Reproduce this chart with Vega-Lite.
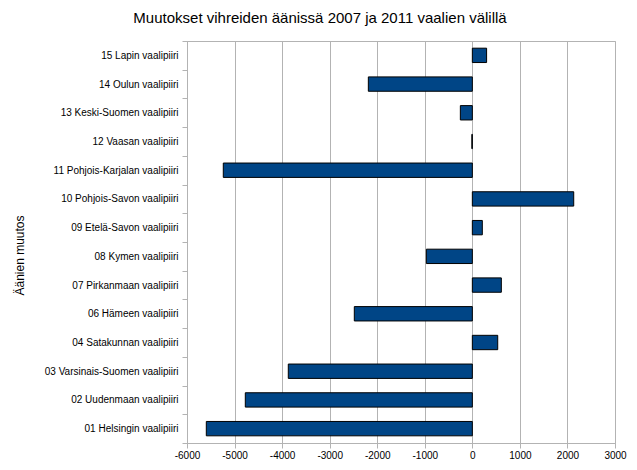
{
  "$schema": "https://vega.github.io/schema/vega-lite/v6.json",
  "width": 428,
  "height": 402,
  "autosize": {"type": "none"},
  "padding": {"left": 187, "top": 41, "right": 22, "bottom": 27},
  "background": "white",
  "title": {
    "text": "Muutokset vihreiden äänissä 2007 ja 2011 vaalien välillä",
    "anchor": "middle",
    "dx": -81,
    "offset": 10,
    "font": "Liberation Sans",
    "fontSize": 15,
    "fontWeight": "normal",
    "color": "black"
  },
  "data": {
    "values": [
      {"piiri": "15 Lapin vaalipiiri", "muutos": 300},
      {"piiri": "14 Oulun vaalipiiri", "muutos": -2187},
      {"piiri": "13 Keski-Suomen vaalipiiri", "muutos": -252},
      {"piiri": "12 Vaasan vaalipiiri", "muutos": -10},
      {"piiri": "11 Pohjois-Karjalan vaalipiiri", "muutos": -5237},
      {"piiri": "10 Pohjois-Savon vaalipiiri", "muutos": 2132},
      {"piiri": "09 Etelä-Savon vaalipiiri", "muutos": 210},
      {"piiri": "08 Kymen vaalipiiri", "muutos": -967},
      {"piiri": "07 Pirkanmaan vaalipiiri", "muutos": 610},
      {"piiri": "06 Hämeen vaalipiiri", "muutos": -2482},
      {"piiri": "04 Satakunnan vaalipiiri", "muutos": 534},
      {"piiri": "03 Varsinais-Suomen vaalipiiri", "muutos": -3870},
      {"piiri": "02 Uudenmaan vaalipiiri", "muutos": -4774},
      {"piiri": "01 Helsingin vaalipiiri", "muutos": -5594}
    ]
  },
  "mark": {"type": "bar", "height": {"band": 0.5}, "color": "#004586", "stroke": "black", "strokeWidth": 1},
  "encoding": {
    "y": {
      "field": "piiri",
      "type": "nominal",
      "sort": "descending",
      "scale": {"paddingInner": 0, "paddingOuter": 0},
      "axis": {
        "title": "Äänien muutos",
        "titleFont": "Liberation Sans",
        "titleFontSize": 12,
        "titleFontWeight": "normal",
        "titleColor": "black",
        "titleAngle": 270,
        "titleX": -168,
        "titleY": 214,
        "titleAlign": "center",
        "titleBaseline": "middle",
        "tickBand": "extent",
        "labelFont": "Liberation Sans",
        "labelFontSize": 10,
        "labelColor": "black",
        "labelPadding": 4,
        "tickColor": "#b3b3b3",
        "domainColor": "#b3b3b3",
        "tickSize": 5,
        "grid": false
      }
    },
    "x": {
      "field": "muutos",
      "type": "quantitative",
      "scale": {"domain": [-6000, 3000], "nice": false},
      "axis": {
        "title": null,
        "values": [-6000, -5000, -4000, -3000, -2000, -1000, 0, 1000, 2000, 3000],
        "labelExpr": "'' + datum.value",
        "labelFont": "Liberation Sans",
        "labelFontSize": 10,
        "labelColor": "black",
        "tickColor": "#b3b3b3",
        "domainColor": "#b3b3b3",
        "gridColor": "#b3b3b3",
        "gridOpacity": 1,
        "tickSize": 5,
        "labelFlush": false
      }
    }
  },
  "config": {
    "view": {"stroke": "#b3b3b3", "strokeWidth": 1}
  }
}
